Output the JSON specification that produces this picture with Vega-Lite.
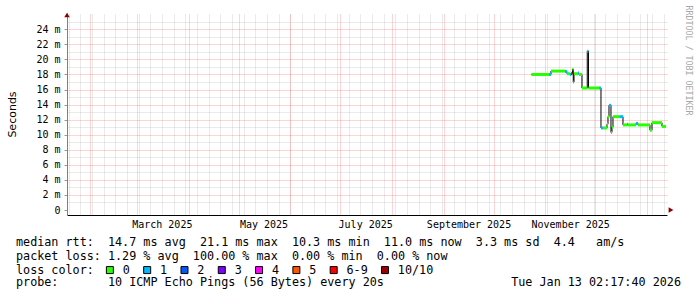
{
  "$schema": "https://vega.github.io/schema/vega-lite/v6.json",
  "width": 600,
  "height": 202,
  "autosize": {"type": "none"},
  "padding": {"left": 67, "top": 13, "right": 30, "bottom": 82},
  "background": "white",
  "config": {"view": {"stroke": null}},
  "datasets": {
    "rtt": [
      {"t": "2025-10-23T19:00", "t2": "2025-11-03T07:00", "ms": 18.0, "loss": "0"},
      {"t": "2025-11-03T07:00", "t2": "2025-11-04T11:30", "ms": 18.0, "loss": "1"},
      {"t": "2025-11-04T11:30", "t2": "2025-11-12T21:00", "ms": 18.45, "loss": "0"},
      {"t": "2025-11-12T21:00", "t2": "2025-11-14T02:00", "ms": 18.4, "loss": "1"},
      {"t": "2025-11-14T02:00", "t2": "2025-11-15T21:00", "ms": 18.1, "loss": "0"},
      {"t": "2025-11-15T21:00", "t2": "2025-11-16T11:30", "ms": 18.0, "loss": "1"},
      {"t": "2025-11-16T11:30", "t2": "2025-11-17T09:00", "ms": 18.1, "loss": "6-9"},
      {"t": "2025-11-17T09:00", "t2": "2025-11-17T20:40", "ms": 18.7, "loss": "0"},
      {"t": "2025-11-17T20:40", "t2": "2025-11-18T07:00", "ms": 17.0, "loss": "1"},
      {"t": "2025-11-18T07:00", "t2": "2025-11-20T16:20", "ms": 18.1, "loss": "0"},
      {"t": "2025-11-20T16:20", "t2": "2025-11-21T07:00", "ms": 18.2, "loss": "1"},
      {"t": "2025-11-21T07:00", "t2": "2025-11-23T02:00", "ms": 18.0, "loss": "0"},
      {"t": "2025-11-23T02:00", "t2": "2025-11-26T06:00", "ms": 16.2, "loss": "0"},
      {"t": "2025-11-26T06:00", "t2": "2025-11-26T23:30", "ms": 21.1, "loss": "1"},
      {"t": "2025-11-26T23:30", "t2": "2025-12-03T07:00", "ms": 16.2, "loss": "0"},
      {"t": "2025-12-03T07:00", "t2": "2025-12-04T11:30", "ms": 16.2, "loss": "1"},
      {"t": "2025-12-04T11:30", "t2": "2025-12-05T16:20", "ms": 10.9, "loss": "1"},
      {"t": "2025-12-05T16:20", "t2": "2025-12-08T02:00", "ms": 10.9, "loss": "0"},
      {"t": "2025-12-08T02:00", "t2": "2025-12-08T16:20", "ms": 11.4, "loss": "0"},
      {"t": "2025-12-08T16:20", "t2": "2025-12-09T07:00", "ms": 12.4, "loss": "0"},
      {"t": "2025-12-09T07:00", "t2": "2025-12-10T11:30", "ms": 13.9, "loss": "1"},
      {"t": "2025-12-10T11:30", "t2": "2025-12-11T02:00", "ms": 10.3, "loss": "0"},
      {"t": "2025-12-11T02:00", "t2": "2025-12-11T16:20", "ms": 11.0, "loss": "0"},
      {"t": "2025-12-11T16:20", "t2": "2025-12-15T21:00", "ms": 12.4, "loss": "0"},
      {"t": "2025-12-15T21:00", "t2": "2025-12-17T16:20", "ms": 12.4, "loss": "1"},
      {"t": "2025-12-17T16:20", "t2": "2025-12-20T02:00", "ms": 11.3, "loss": "0"},
      {"t": "2025-12-20T02:00", "t2": "2025-12-20T16:20", "ms": 11.4, "loss": "1"},
      {"t": "2025-12-20T16:20", "t2": "2025-12-25T11:30", "ms": 11.3, "loss": "0"},
      {"t": "2025-12-25T11:30", "t2": "2025-12-26T16:20", "ms": 11.5, "loss": "1"},
      {"t": "2025-12-26T16:20", "t2": "2026-01-02T21:00", "ms": 11.3, "loss": "0"},
      {"t": "2026-01-02T21:00", "t2": "2026-01-04T02:00", "ms": 10.6, "loss": "0"},
      {"t": "2026-01-04T02:00", "t2": "2026-01-10T02:00", "ms": 11.6, "loss": "0"},
      {"t": "2026-01-10T02:00", "t2": "2026-01-12T11:30", "ms": 11.1, "loss": "0"}
    ]
  },
  "title": {
    "text": [
      "median\u00a0rtt:\u00a0\u00a014.7\u00a0ms\u00a0avg\u00a0\u00a021.1\u00a0ms\u00a0max\u00a0\u00a010.3\u00a0ms\u00a0min\u00a0\u00a011.0\u00a0ms\u00a0now\u00a0\u00a03.3\u00a0ms\u00a0sd\u00a0\u00a04.4\u00a0\u00a0\u00a0am/s",
      "packet\u00a0loss:\u00a01.29\u00a0%\u00a0avg\u00a0\u00a0100.00\u00a0%\u00a0max\u00a0\u00a00.00\u00a0%\u00a0min\u00a0\u00a00.00\u00a0%\u00a0now"
    ],
    "subtitle": "probe:\u00a0\u00a0\u00a0\u00a0\u00a0\u00a0\u00a010\u00a0ICMP\u00a0Echo\u00a0Pings\u00a0(56\u00a0Bytes)\u00a0every\u00a020s\u00a0\u00a0\u00a0\u00a0\u00a0\u00a0\u00a0\u00a0\u00a0\u00a0\u00a0\u00a0\u00a0\u00a0\u00a0\u00a0\u00a0\u00a0Tue\u00a0Jan\u00a013\u00a002:17:40\u00a02026",
    "orient": "bottom",
    "anchor": "start",
    "frame": "group",
    "dx": -51,
    "dy": -45,
    "offset": 5,
    "baseline": "top",
    "font": "DejaVu Sans Mono",
    "fontSize": 11.75,
    "fontWeight": "normal",
    "color": "black",
    "lineHeight": 14,
    "subtitleFont": "DejaVu Sans Mono",
    "subtitleFontSize": 11.75,
    "subtitleFontWeight": "normal",
    "subtitleColor": "black",
    "subtitleLineHeight": 14,
    "subtitlePadding": 14
  },
  "layer": [
    {
      "data": {"name": "rtt"},
      "mark": {"type": "point", "opacity": 0},
      "encoding": {
        "x": {
          "field": "t", "type": "temporal",
          "scale": {"domain": [{"year": 2025, "month": 1, "date": 18, "hours": 2, "minutes": 17, "seconds": 40}, {"year": 2026, "month": 1, "date": 13, "hours": 2, "minutes": 17, "seconds": 40}]},
          "axis": {"orient": "top", "grid": true, "gridColor": "#b8b8b8", "gridOpacity": 0.6, "gridDash": [1, 1], "gridWidth": 1, "tickCount": {"interval": "week", "step": 1}, "labels": false, "ticks": false, "domain": false, "title": null}
        },
        "y": {
          "field": "ms", "type": "quantitative",
          "scale": {"domain": [0, 25.5], "nice": false, "zero": false},
          "axis": {"orient": "right", "grid": true, "values": [1, 3, 5, 7, 9, 11, 13, 15, 17, 19, 21, 23, 25], "gridColor": "#b8b8b8", "gridOpacity": 0.6, "gridDash": [1, 1], "gridWidth": 1, "labels": false, "ticks": false, "domain": false,
                   "title": "RRDTOOL / TOBI OETIKER", "titleAngle": 90, "titleX": 20, "titleY": 47, "titleAlign": "center", "titleBaseline": "middle", "titleFont": "DejaVu Sans Mono", "titleFontSize": 8.3, "titleFontWeight": "normal", "titleColor": "#a8a8a8"}
        }
      }
    },
    {
      "data": {"name": "rtt"},
      "mark": {"type": "point", "opacity": 0},
      "encoding": {
        "x": {
          "field": "t", "type": "temporal",
          "scale": {"domain": [{"year": 2025, "month": 1, "date": 18, "hours": 2, "minutes": 17, "seconds": 40}, {"year": 2026, "month": 1, "date": 13, "hours": 2, "minutes": 17, "seconds": 40}]},
          "axis": {"orient": "top", "grid": true, "gridColor": "#ff4040", "gridOpacity": 0.45, "gridDash": [1, 1], "gridWidth": 1, "tickCount": {"interval": "month", "step": 1}, "labels": false, "ticks": false, "domain": false, "title": null}
        },
        "y": {
          "field": "ms", "type": "quantitative",
          "scale": {"domain": [0, 25.5], "nice": false, "zero": false},
          "axis": {"orient": "right", "grid": true, "values": [2, 4, 6, 8, 10, 12, 14, 16, 18, 20, 22, 24], "gridColor": "#ff4040", "gridOpacity": 0.45, "gridDash": [1, 1], "gridWidth": 1, "labels": false, "ticks": false, "domain": false, "title": null}
        }
      }
    },
    {
      "data": {"name": "rtt"},
      "mark": {"type": "line", "interpolate": "step-after", "color": "black", "strokeWidth": 1},
      "encoding": {
        "x": {
          "field": "t", "type": "temporal",
          "scale": {"domain": [{"year": 2025, "month": 1, "date": 18, "hours": 2, "minutes": 17, "seconds": 40}, {"year": 2026, "month": 1, "date": 13, "hours": 2, "minutes": 17, "seconds": 40}]},
          "axis": {"orient": "bottom", "values": [{"year": 2025, "month": 3, "date": 16}, {"year": 2025, "month": 5, "date": 16}, {"year": 2025, "month": 7, "date": 16}, {"year": 2025, "month": 9, "date": 16}, {"year": 2025, "month": 11, "date": 16}],
                   "format": "%B %Y", "grid": false, "ticks": false, "tickSize": 0, "labelPadding": 4, "labelFont": "DejaVu Sans Mono", "labelFontSize": 10, "labelColor": "black", "labelFlush": false, "labelOverlap": false, "domainColor": "black", "domainWidth": 1, "title": null}
        },
        "y": {
          "field": "ms", "type": "quantitative",
          "scale": {"domain": [0, 25.5], "nice": false, "zero": false},
          "axis": {"orient": "left", "values": [0, 2, 4, 6, 8, 10, 12, 14, 16, 18, 20, 22, 24], "labelExpr": "datum.value == 0 ? '0\u00a0\u00a0' : datum.value + ' m'", "grid": false, "ticks": true, "tickSize": 3, "tickColor": "#999999", "labelPadding": 4, "labelFont": "DejaVu Sans Mono", "labelFontSize": 10, "labelColor": "black", "domainColor": "#808080",
                   "title": "Seconds", "titleFont": "DejaVu Sans", "titleFontSize": 11, "titleFontWeight": "normal", "titleColor": "black", "titlePadding": 18}
        }
      }
    },
    {
      "data": {"name": "rtt"},
      "mark": {"type": "bar", "orient": "horizontal", "size": 3},
      "encoding": {
        "x": {
          "field": "t", "type": "temporal",
          "scale": {"domain": [{"year": 2025, "month": 1, "date": 18, "hours": 2, "minutes": 17, "seconds": 40}, {"year": 2026, "month": 1, "date": 13, "hours": 2, "minutes": 17, "seconds": 40}]},
          "axis": null
        },
        "x2": {"field": "t2"},
        "y": {"field": "ms", "type": "quantitative", "scale": {"domain": [0, 25.5], "nice": false, "zero": false}, "axis": null},
        "color": {
          "field": "loss", "type": "nominal",
          "scale": {"domain": ["0", "1", "2", "3", "4", "5", "6-9", "10/10"], "range": ["#26ff00", "#00b8ff", "#0059ff", "#7e00ff", "#ff00ff", "#ff5500", "#ff0000", "#a10000"]},
          "legend": {"orient": "none", "legendX": -51, "legendY": 251, "direction": "horizontal", "columns": 8, "padding": 0,
                     "title": "loss color:", "titleOrient": "left", "titlePadding": 10, "titleFont": "DejaVu Sans Mono", "titleFontSize": 11.75, "titleFontWeight": "normal", "titleColor": "black",
                     "labelFont": "DejaVu Sans Mono", "labelFontSize": 11.75, "labelColor": "black", "labelOffset": 7, "columnPadding": 11.3,
                     "symbolType": "square", "symbolSize": 49, "symbolStrokeColor": "black", "symbolStrokeWidth": 1, "symbolOpacity": 1}
        }
      }
    },
    {
      "data": {"values": [{}]},
      "mark": {"type": "point", "shape": "triangle-right", "filled": true, "size": 30, "color": "#8b0000", "opacity": 1, "xOffset": 4},
      "encoding": {
        "x": {"datum": {"year": 2026, "month": 1, "date": 13, "hours": 2, "minutes": 17, "seconds": 40}, "type": "temporal", "scale": {"domain": [{"year": 2025, "month": 1, "date": 18, "hours": 2, "minutes": 17, "seconds": 40}, {"year": 2026, "month": 1, "date": 13, "hours": 2, "minutes": 17, "seconds": 40}]}, "axis": null},
        "y": {"datum": 0, "type": "quantitative", "scale": {"domain": [0, 25.5], "nice": false, "zero": false}, "axis": null}
      }
    },
    {
      "data": {"values": [{}]},
      "mark": {"type": "point", "shape": "triangle-up", "filled": true, "size": 30, "color": "#8b0000", "opacity": 1, "yOffset": -3},
      "encoding": {
        "x": {"datum": {"year": 2025, "month": 1, "date": 18, "hours": 2, "minutes": 17, "seconds": 40}, "type": "temporal", "scale": {"domain": [{"year": 2025, "month": 1, "date": 18, "hours": 2, "minutes": 17, "seconds": 40}, {"year": 2026, "month": 1, "date": 13, "hours": 2, "minutes": 17, "seconds": 40}]}, "axis": null},
        "y": {"datum": 25.5, "type": "quantitative", "scale": {"domain": [0, 25.5], "nice": false, "zero": false}, "axis": null}
      }
    }
  ],
  "resolve": {"axis": {"x": "independent", "y": "independent"}}
}
